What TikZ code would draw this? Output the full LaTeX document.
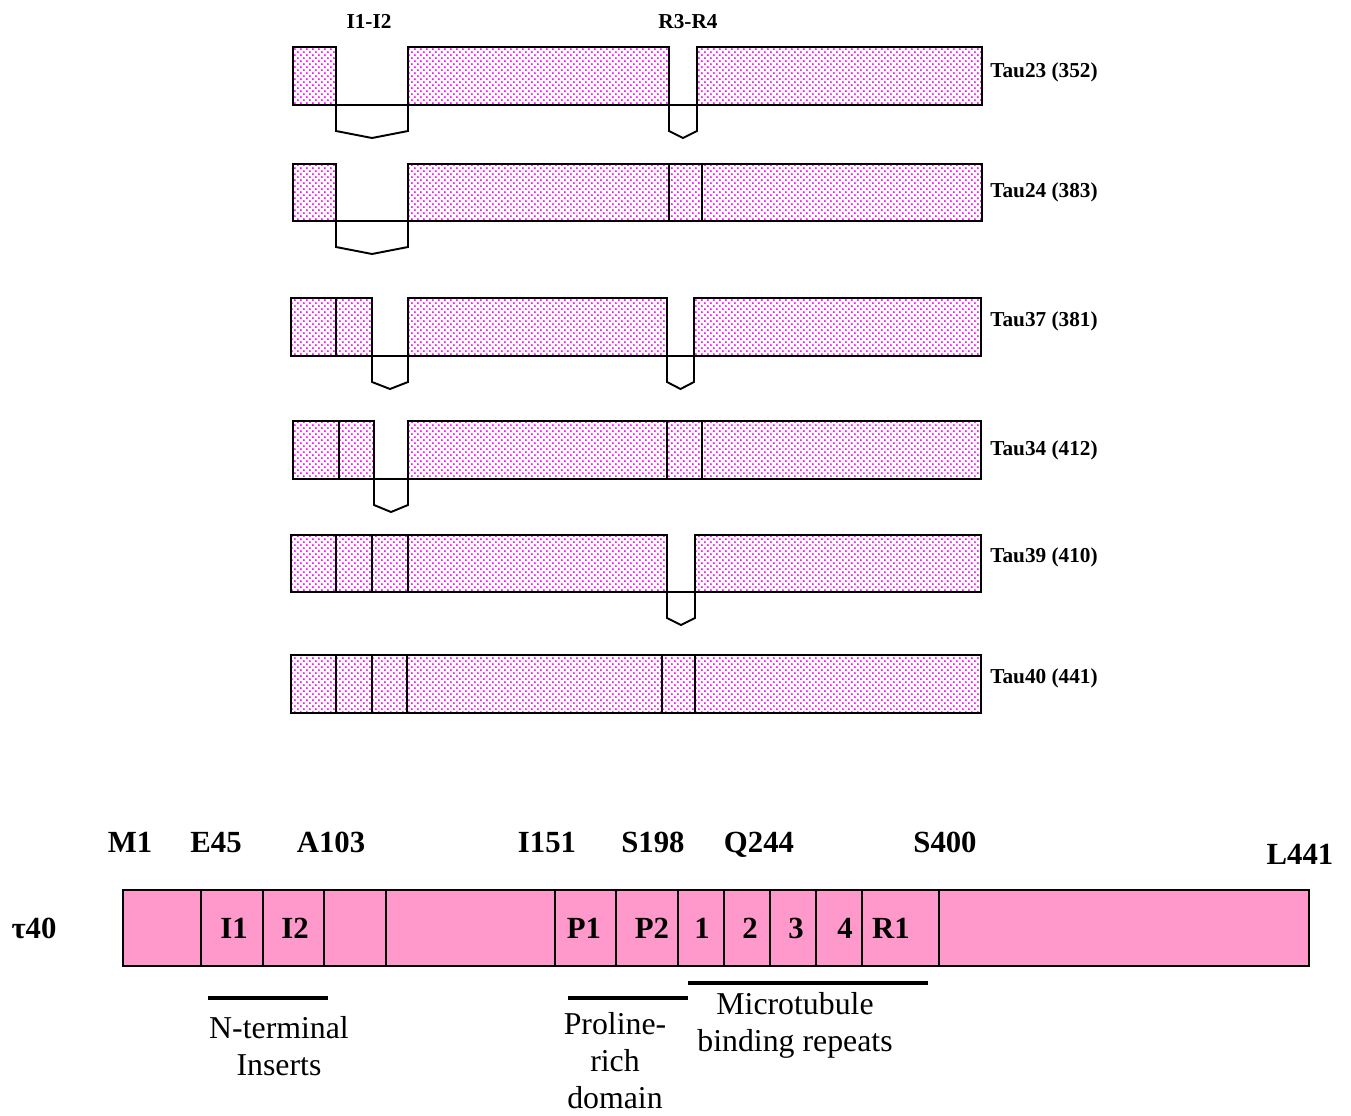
\documentclass[tikz,border=0pt]{standalone}
\usepackage{fontspec}
\setmainfont{Liberation Serif}
\usepackage{xcolor}
\usetikzlibrary{patterns}

\definecolor{taupink}{RGB}{255,153,204}

% small staggered dots for the isoform bars
\pgfdeclarepatternformonly{pinkdots}{\pgfqpoint{-0.5pt}{-0.5pt}}{\pgfqpoint{2.9pt}{2.9pt}}{\pgfqpoint{3.4pt}{3.4pt}}{
	\pgfpathcircle{\pgfqpoint{0pt}{0pt}}{.6pt}
	\pgfpathcircle{\pgfqpoint{1.7pt}{1.7pt}}{.6pt}
	\pgfusepath{fill}
}

\tikzset{
	exon/.style = {draw, line width=1.1pt, pattern=pinkdots, pattern color=magenta},
	skipped/.style = {draw, line width=1.1pt},
	isolabel/.style = {anchor=base west, inner sep=0pt, font=\fontsize{12.1}{14}\selectfont\bfseries},
	taucell/.style = {draw, fill=taupink, line width=0.8pt},
	site/.style = {anchor=base, inner sep=0pt, font=\fontsize{17.5}{21.5}\selectfont\bfseries},
	region/.style = {line width=2.8pt},
	note/.style = {anchor=base, inner sep=0pt, align=center, font=\fontsize{18.1}{21}\selectfont},
}

\begin{document}
\begin{tikzpicture}[x=0.02cm, y=-0.02cm]
	\useasboundingbox (0,0) rectangle (1351,1115);

	% isoforms: top/bottom of the bar, exon pieces, baseline of the name, name
	\foreach \top/\bot/\parts/\base/\lab [count=\i] in {
			47/105/{293/336,408/669,697/982}/78/{Tau23 (352)},
			164/221/{293/336,408/669,669/702,702/982}/197/{Tau24 (383)},
			298/356/{291/336,336/372,408/667,694/981}/326/{Tau37 (381)},
			421/479/{293/339,339/374,408/667,667/702,702/981}/455/{Tau34 (412)},
			535/592/{291/336,336/372,372/408,408/667,695/981}/562/{Tau39 (410)},
			655/713/{291/336,336/372,372/407,407/662,662/695,695/981}/683/{Tau40 (441)}} {
		\foreach \a/\b in \parts
			\draw[exon] (\a,\top) rectangle (\b,\bot);
		\node[isolabel] (iso\i) at (990,\base) {\lab};
	}

	% spliced out exons
	\foreach \a/\b/\y in {336/408/105, 669/697/105, 336/408/221, 372/408/356,
			667/694/356, 374/408/479, 667/695/592}
		\draw[skipped] (\a,\y) -- ({\a},{\y+26}) -- ({(\a+\b)/2},{\y+33})
			-- ({\b},{\y+26}) -- (\b,\y) -- cycle;

	\node[isolabel, anchor=base] (ins) at (369,29) {I1-I2};
	\node[isolabel, anchor=base] (rep) at (688,29) {R3-R4};

	% full length tau40
	\foreach \a/\b in {123/201, 201/263, 263/324, 324/386, 386/555, 555/616,
			616/678, 678/724, 724/770, 770/816, 816/862, 862/939, 939/1309}
		\draw[taucell] (\a,890) rectangle (\b,966);

	\node[site] (tau) at (34,938) {τ40};
	\foreach \x/\t [count=\i] in {234/I1, 295/I2, 584/P1, 652/P2, 702/1,
			750/2, 796/3, 845/4, 891/R1}
		\node[site] (cell\i) at (\x,938) {\t};

	\foreach \x/\t [count=\i] in {130/M1, 216/E45, 331/A103, 547/I151,
			653/S198, 759/Q244, 945/S400}
		\node[site] (res\i) at (\x,852) {\t};
	\node[site] (res8) at (1300,864) {L441};

	% domains
	\draw[region] (208,998) -- (328,998);
	\draw[region] (568,998) -- (688,998);
	\draw[region] (688,983) -- (928,983);

	% align=center puts the base on the last line
	\node[note] (nterm) at (279,1075) {N-terminal\\Inserts};
	\node[note] (prol) at (615,1108) {Proline-\\rich\\domain};
	\node[note] (mtb) at (795,1051) {Microtubule\\binding repeats};
\end{tikzpicture}
\end{document}
